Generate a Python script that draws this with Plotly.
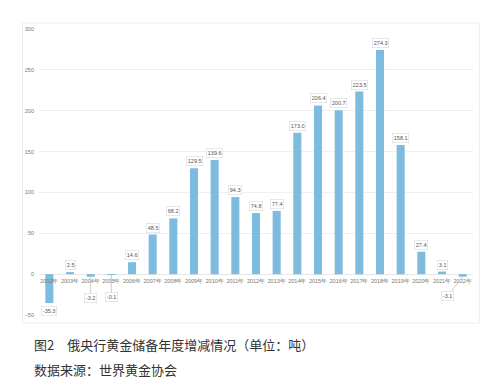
import plotly.graph_objects as go

years = ["2002年", "2003年", "2004年", "2005年", "2006年", "2007年", "2008年", "2009年",
         "2010年", "2011年", "2012年", "2013年", "2014年", "2015年", "2016年", "2017年",
         "2018年", "2019年", "2020年", "2021年", "2022年"]
values = [-35.3, 2.5, -3.2, -0.1, 14.6, 48.5, 68.2, 129.5, 139.6, 94.3, 74.8, 77.4,
          173.0, 206.4, 200.7, 223.5, 274.3, 158.1, 27.4, 3.1, -3.1]
y_ticks = [-50, 0, 50, 100, 150, 200, 250, 300]
y_min, y_max = -50, 300

BAR = "#7dbcde"

fig = go.Figure()
fig.add_trace(go.Bar(x=years, y=values, marker=dict(color=BAR, line=dict(width=0)),
                     hoverinfo="skip"))

# data labels
leader = {"2004年": (0, 21), "2005年": (0, 23), "2022年": (-15, 19)}
for yr, v in zip(years, values):
    txt = f"{v:.1f}"
    common = dict(x=yr, y=v, text=txt, font=dict(size=5.5, color="#555", family="Liberation Sans"),
                  bgcolor="white", bordercolor="#d9d9d9", borderwidth=0.6, borderpad=1.2)
    if yr in leader:
        ax, ay = leader[yr]
        fig.add_annotation(**common, showarrow=True, arrowhead=0, arrowwidth=0.6,
                           arrowcolor="#aaa", ax=ax, ay=ay, standoff=0)
    elif v < 0:
        fig.add_annotation(**common, showarrow=False, yanchor="top", yshift=-3)
    else:
        fig.add_annotation(**common, showarrow=False, yanchor="bottom", yshift=2)

# outer frame
fig.add_shape(type="rect", xref="paper", yref="paper", x0=-0.038, x1=1.015, y0=-0.028, y1=1.021,
              line=dict(color="#eeeeee", width=1), fillcolor="rgba(0,0,0,0)", layer="below")

cap_font = dict(family="Noto Sans CJK SC", size=13, color="#333")
fig.add_annotation(xref="paper", yref="paper", x=-0.0153, y=-0.1014, xanchor="left", yanchor="middle",
                   text="图2　俄央行黄金储备年度增减情况（单位：吨）", showarrow=False, font=cap_font)
fig.add_annotation(xref="paper", yref="paper", x=-0.0153, y=-0.189, xanchor="left", yanchor="middle",
                   text="数据来源：世界黄金协会", showarrow=False, font=cap_font)

zero_pos = (0 - y_min) / (y_max - y_min)

fig.update_layout(
    width=497, height=391,
    margin=dict(l=38.65, r=23.65, t=29, b=76, autoexpand=False),
    paper_bgcolor="white", plot_bgcolor="white",
    bargap=0.61, showlegend=False,
    xaxis=dict(type="category", showgrid=False, zeroline=False, showline=False,
               anchor="free", position=zero_pos,
               ticks="", tickfont=dict(size=5.5, color="#777", family="Liberation Sans"),
               tickangle=0, ticklabelstandoff=2),
    yaxis=dict(range=[y_min, y_max], tickvals=y_ticks, showgrid=True, gridcolor="#efefef", gridwidth=1,
               zeroline=True, zerolinecolor="#e6e6e6", zerolinewidth=1, showline=False, ticks="",
               tickfont=dict(size=5.5, color="#777", family="Liberation Sans"),
               ticklabelstandoff=4),
)

fig.write_html("out.html", config={"displayModeBar": False},
               post_script="document.body.style.margin='0';document.body.style.overflow='hidden';")
